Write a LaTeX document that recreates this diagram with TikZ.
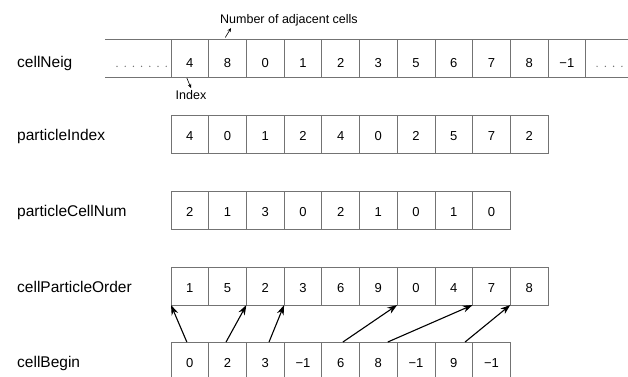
\documentclass[tikz,border=0pt]{standalone}
\usepackage{fontspec}
\setmainfont{Liberation Sans}
\usetikzlibrary{calc,arrows.meta}

\tikzset{
  cellbox/.style={draw=black!55, line width=0.7pt, rectangle,
    minimum width=37.7pt, minimum height=38pt, inner sep=0pt, outer sep=0pt,
    text height=12pt, text depth=0pt, font=\fontsize{13}{15}\selectfont},
  neigcell/.style={cellbox, text height=18pt},
  frameline/.style={draw=black!55, line width=0.7pt},
  rowlabel/.style={anchor=base west, inner sep=0pt, font=\fontsize{15.5}{18}\selectfont},
  notelabel/.style={inner sep=0pt, font=\fontsize{12.5}{15}\selectfont},
  ptr/.style={-{Stealth[length=10pt,width=7pt]}, line width=1.1pt},
  leader/.style={-{Stealth[length=4pt,width=3.5pt]}, line width=0.6pt},
  dotmark/.style={fill=black!60}
}

\begin{document}
\begin{tikzpicture}[x=1pt,y=-1pt]
  \useasboundingbox (0,0) rectangle (628,376);
  \fill[white] (0,0) rectangle (628,376);
  \clip (0,0) rectangle (628,376);

  % row labels
  \node[rowlabel] (lab-neig) at (17,67)    {cellNeig};
  \node[rowlabel] (lab-pidx) at (17,140)   {particleIndex};
  \node[rowlabel] (lab-pcn)  at (17,216)   {particleCellNum};
  \node[rowlabel] (lab-cpo)  at (17,292)   {cellParticleOrder};
  \node[rowlabel] (lab-cb)   at (17,367)   {cellBegin};

  % cellNeig: open-ended strip
  \foreach \v [count=\i from 0] in {4,8,0,1,2,3,5,6,7,8,−1}
    \node[neigcell] (cn-\i) at ({171+37.7*(\i+0.5)},58) {\v};
  \coordinate (cnLT) at (105,39);
  \coordinate (cnLB) at (105,77);
  \coordinate (cnRT) at (628,39);
  \coordinate (cnRB) at (628,77);
  \draw[frameline] (cnLT) -- (cn-0.north west);
  \draw[frameline] (cnLB) -- (cn-0.south west);
  \draw[frameline] (cn-10.north east) -- (cnRT);
  \draw[frameline] (cn-10.south east) -- (cnRB);
  \foreach \k in {0,...,6}
    \fill[dotmark] ({117+8.2*\k},66.3) circle (0.7pt);
  \foreach \k in {0,...,3}
    \fill[dotmark] ({597+8.3*\k},66.3) circle (0.7pt);

  % particleIndex
  \foreach \v [count=\i from 0] in {4,0,1,2,4,0,2,5,7,2}
    \node[cellbox] (pi-\i) at ({171+37.7*(\i+0.5)},134) {\v};

  % particleCellNum
  \foreach \v [count=\i from 0] in {2,1,3,0,2,1,0,1,0}
    \node[cellbox] (pcn-\i) at ({171+37.7*(\i+0.5)},210) {\v};

  % cellParticleOrder
  \foreach \v [count=\i from 0] in {1,5,2,3,6,9,0,4,7,8}
    \node[cellbox] (cpo-\i) at ({171+37.7*(\i+0.5)},286) {\v};

  % cellBegin
  \foreach \v [count=\i from 0] in {0,2,3,−1,6,8,−1,9,−1}
    \node[cellbox] (cb-\i) at ({171+37.7*(\i+0.5)},361) {\v};

  % annotations on cellNeig
  \node[notelabel, anchor=base west] (numlbl) at (220,23) {Number of adjacent cells};
  \coordinate (numtip) at (231,28);
  \draw[leader] ($(cn-1.north west)!0.44!(cn-1.north east)+(0,-1.5)$) -- (numtip);

  \node[notelabel, anchor=base] (idxlbl) at (191,99) {Index};
  \coordinate (idxtip) at (191,88);
  \draw[leader] ($(cn-0.south west)!0.42!(cn-0.south east)+(0,1)$) -- (idxtip);

  % cellBegin pointers into cellParticleOrder
  \draw[ptr] ($(cb-0.north west)!0.42!(cb-0.north east)$) -- (cpo-0.south west);
  \draw[ptr] ($(cb-1.north west)!0.46!(cb-1.north east)$) -- (cpo-2.south west);
  \draw[ptr] ($(cb-2.north west)!0.60!(cb-2.north east)$) -- (cpo-3.south west);
  \draw[ptr] ($(cb-4.north west)!0.56!(cb-4.north east)$) -- (cpo-6.south west);
  \draw[ptr] ($(cb-5.north west)!0.75!(cb-5.north east)$) -- (cpo-8.south west);
  \draw[ptr] ($(cb-7.north west)!0.80!(cb-7.north east)$) -- (cpo-9.south west);
\end{tikzpicture}
\end{document}
